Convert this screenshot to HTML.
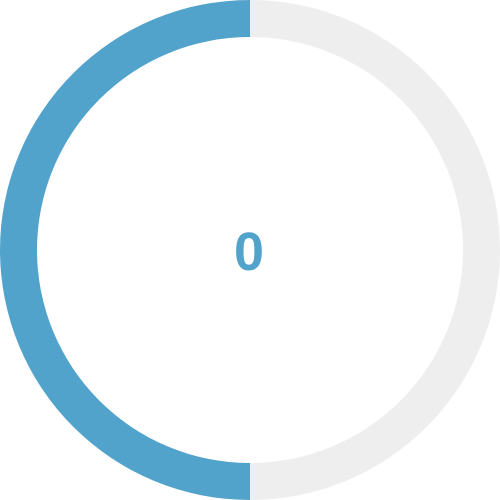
<!DOCTYPE html>
<html>
<head>
<meta charset="utf-8">
<style>
  html,body{margin:0;padding:0;background:#fff;}
  svg{display:block;}
</style>
</head>
<body>
<svg id="chart" width="500" height="500" viewBox="0 0 500 500">
  <g id="slices"></g>
  <text id="center-label" x="249" y="270" text-anchor="middle" font-family="'Liberation Sans', sans-serif" font-weight="bold" font-size="54" fill="#52a3cc"></text>
</svg>
<script>
const categories = ["filled", "remaining"];
const values = [50, 50];
const colors = ["#52a3cc", "#eeeeee"];
const centerLabel = "0";

const cx = 250, cy = 250, rOuter = 250, rInner = 213;
const total = values.reduce((a, b) => a + b, 0);
function angleScale(v) { return v / total * Math.PI * 2; }
function pt(r, a) { return [cx + r * Math.sin(a), cy - r * Math.cos(a)]; }

const g = document.getElementById('slices');
values.forEach((v, i) => {
  const sweep = angleScale(v);
  let a0, a1;
  if (i === 0) { a0 = -sweep; a1 = 0; }
  else { a0 = 0; a1 = sweep; }
  const large = sweep > Math.PI ? 1 : 0;
  const [x0, y0] = pt(rOuter, a0), [x1, y1] = pt(rOuter, a1);
  const [x2, y2] = pt(rInner, a1), [x3, y3] = pt(rInner, a0);
  const d = `M${x0},${y0} A${rOuter},${rOuter} 0 ${large} 1 ${x1},${y1} L${x2},${y2} A${rInner},${rInner} 0 ${large} 0 ${x3},${y3} Z`;
  const p = document.createElementNS('http://www.w3.org/2000/svg', 'path');
  p.setAttribute('d', d);
  p.setAttribute('fill', colors[i]);
  
  
  g.appendChild(p);
});
document.getElementById('center-label').textContent = centerLabel;
</script>
</body>
</html>
